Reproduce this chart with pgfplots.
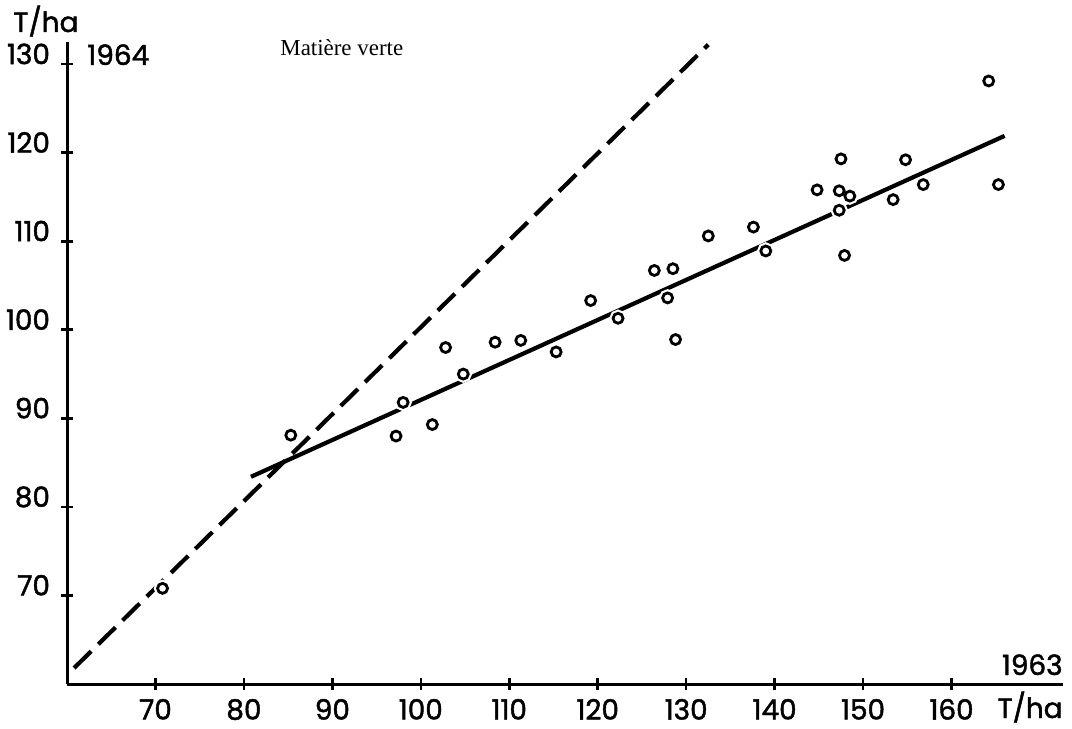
\documentclass[border=0pt]{standalone}
\usepackage{fontspec}
\setmainfont{Poppins}[BoldFont=Poppins, BoldFeatures={FakeBold=1.6}]
\newfontfamily\seriffont{Liberation Serif}
\usepackage{pgfplots}
\usepackage{pgfplotstable}
\pgfplotsset{compat=1.18}

\pgfplotstableread{
x y
70.8 70.8
85.3 88.1
97.2 88.0
98.0 91.8
101.3 89.3
102.8 98.0
104.8 95.0
108.4 98.6
111.3 98.8
115.3 97.5
119.2 103.3
122.3 101.3
126.4 106.7
128.5 106.9
127.9 103.6
128.8 98.9
132.5 110.6
137.6 111.6
139.0 108.9
144.8 115.8
147.5 119.3
147.3 115.7
148.5 115.1
147.3 113.5
147.9 108.4
153.4 114.7
154.8 119.2
156.8 116.4
164.2 128.1
165.3 116.4
}\pts

\begin{document}
\begin{tikzpicture}
\useasboundingbox (-33.5bp,-22.5bp) rectangle (502.5bp,342bp);
\begin{axis}[
  at={(0,0)}, anchor=south west,
  scale only axis, width=498bp, height=321bp,
  xmin=60, xmax=172.6, ymin=60, ymax=132.5,
  axis x line=bottom, axis y line=left,
  axis line style={-, line width=1.5bp},
  xtick={70,80,...,160}, ytick={70,80,...,130},
  tick align=center, major tick length=6bp,
  tick style={line width=1.3bp, black},
  every tick label/.append style={font=\bfseries\fontsize{14}{17}\selectfont},
  /pgf/number format/assume math mode=true,
  xticklabel style={anchor=north, yshift=-1bp},
  yticklabel style={anchor=base east, xshift=-2bp},
  clip=false,
]
\addplot[line width=2.1bp, dash pattern=on 12bp off 5bp] coordinates {(60.8,61.8) (132.5,132.2)};
\addplot[line width=2.1bp] coordinates {(80.8,83.4) (166.0,121.9)};
\addplot[only marks, mark=*, mark size=2.7bp, mark options={draw=white, fill=white, line width=3.2bp}] table {\pts};
\addplot[only marks, mark=*, mark size=2.5bp, mark options={draw=black, fill=white, line width=1.4bp}] table {\pts};
\end{axis}
\node[anchor=base west, inner sep=0pt, font=\bfseries\fontsize{14}{17}\selectfont] at (-27bp,326bp) {T/ha};
\node[anchor=base west, inner sep=0pt, font=\bfseries\fontsize{14}{17}\selectfont] at (10bp,309.5bp) {1964};
\node[anchor=base west, inner sep=0pt, font=\seriffont\fontsize{11.5}{14}\selectfont] at (106.5bp,314bp) {Matière verte};
\node[anchor=base east, inner sep=0pt, font=\bfseries\fontsize{14}{17}\selectfont] at (498bp,4.5bp) {1963};
\node[anchor=base east, inner sep=0pt, font=\bfseries\fontsize{14}{17}\selectfont] at (498bp,-17bp) {T/ha};
\end{tikzpicture}
\end{document}
